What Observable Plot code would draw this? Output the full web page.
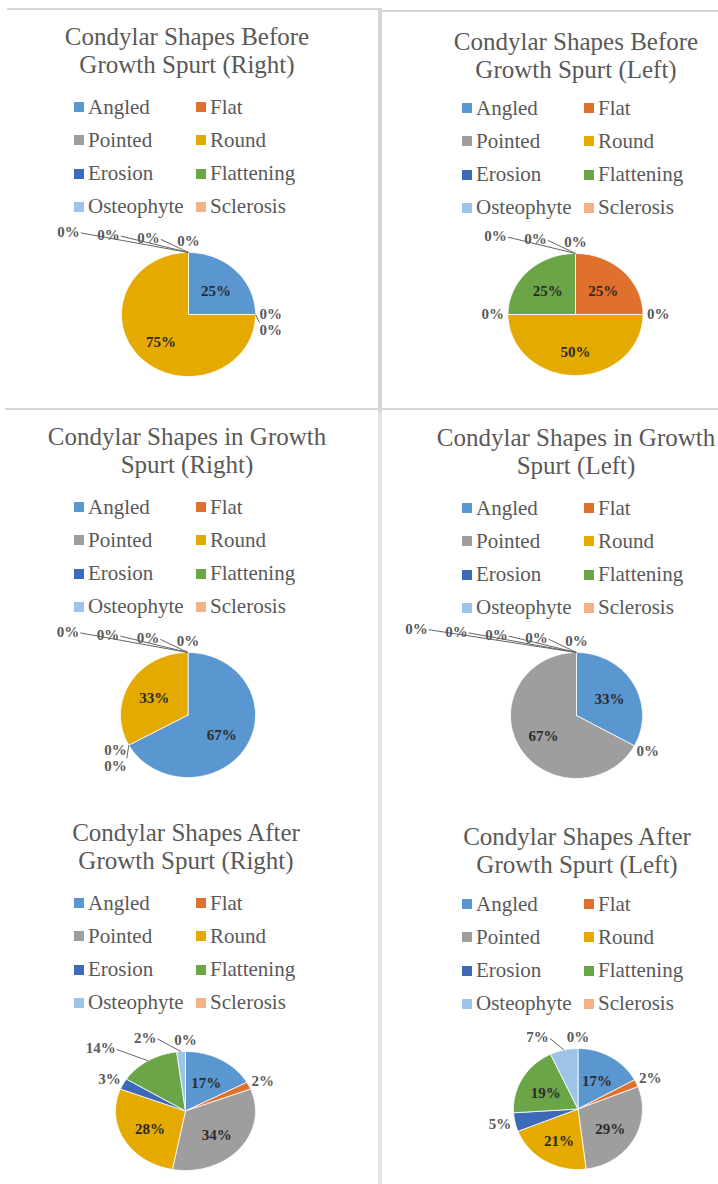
<!DOCTYPE html>
<html><head><meta charset="utf-8">
<script src="https://cdn.jsdelivr.net/npm/d3@7"></script>
<script src="https://cdn.jsdelivr.net/npm/@observablehq/plot@0.6"></script>
<style>
body{margin:0;background:#fff;font-family:'Liberation Serif','DejaVu Serif',serif;}
#page{position:relative;width:718px;height:1184px;overflow:hidden;background:#fff;font-family:'Liberation Serif','DejaVu Serif',serif;}
.title{position:absolute;width:440px;text-align:center;font-family:'Liberation Serif','DejaVu Serif',serif;font-size:25px;line-height:28px;color:#595959;white-space:nowrap;}
.leg{position:absolute;display:flex;align-items:center;font-family:'Liberation Serif','DejaVu Serif',serif;font-size:21px;color:#595959;height:26px;white-space:nowrap;}
.sw{width:10px;height:10px;margin-right:4px;flex:none;}
.rule{position:absolute;}
</style></head><body><div id="page"></div>
<script>
// ---- data ----
const categories = ["Angled","Flat","Pointed","Round","Erosion","Flattening","Osteophyte","Sclerosis"];
const colors = ["#5A96CF","#E0712C","#9E9E9E","#E4AA00","#3D6AB8","#6AA647","#9DC3E6","#F4B183"];
const titles = [
  ["Condylar Shapes Before","Growth Spurt (Right)"],
  ["Condylar Shapes Before","Growth Spurt (Left)"],
  ["Condylar Shapes in Growth","Spurt (Right)"],
  ["Condylar Shapes in Growth","Spurt (Left)"],
  ["Condylar Shapes After","Growth Spurt (Right)"],
  ["Condylar Shapes After","Growth Spurt (Left)"]
];
const beforeRight = [25,0,0,75,0,0,0,0];
const beforeLeft  = [0,25,0,50,0,25,0,0];
const inRight     = [67,0,0,33,0,0,0,0];
const inLeft      = [33,0,67,0,0,0,0,0];
const afterRight  = [17,2,34,28,3,14,2,0];
const afterLeft   = [17,2,29,21,5,19,7,0];
const seriesList = [beforeRight, beforeLeft, inRight, inLeft, afterRight, afterLeft];

// ---- layout (page px) ----
const layouts = [
  {tx:187, ty:37,  lx:74,  ly:107, cx:188,   cy:314,    rx:67,   ry:62,   svg:[0,215,378,190]},
  {tx:576, ty:42,  lx:462, ly:108, cx:575,   cy:314,    rx:67.5, ry:61,   svg:[383,215,335,190]},
  {tx:187, ty:437, lx:74,  ly:507, cx:187.5, cy:714.5,  rx:67.5, ry:62.5, svg:[0,615,378,185]},
  {tx:576, ty:438, lx:462, ly:508, cx:576,   cy:715,    rx:66,   ry:63,   svg:[383,615,335,185]},
  {tx:186, ty:833, lx:74,  ly:903, cx:185,   cy:1110.5, rx:70,   ry:59.5, svg:[0,1010,378,174]},
  {tx:577, ty:837, lx:462, ly:904, cx:577.5, cy:1108.5, rx:64.5, ry:60.5, svg:[383,1010,335,174]}
];

const page = document.getElementById("page");
function addRule(l,t,w,h,c){const d=document.createElement("div");d.className="rule";Object.assign(d.style,{left:l+"px",top:t+"px",width:w+"px",height:h+"px",background:c});page.appendChild(d);}
addRule(7,8,373,2,"#d6d6d6");
addRule(380,10,338,2,"#d6d6d6");
addRule(378,8,4,404,"#d6d6d6");
addRule(378,412,4,772,"#e4e4e4");
addRule(5,408,713,2,"#d6d6d6");

function labelWidth(t){return (t.length-1)*7.6+15;}

function buildPie(values, L){
  const total = d3.sum(values);
  let acc = 0;
  const slices = values.map((v,i)=>{
    const a0 = acc/total*2*Math.PI; acc += v; const a1 = acc/total*2*Math.PI;
    return {category:categories[i], value:v, pct:Math.round(v/total*100), a0, a1, mid:(a0+a1)/2};
  });
  // slice polygons in unit-circle coordinates
  const pts = [];
  slices.forEach((s,i)=>{
    if (s.value<=0) return;
    const n = Math.max(2, Math.ceil((s.a1-s.a0)/(Math.PI/180)));
    pts.push({key:i, category:s.category, x:0, y:0});
    for (let k=0;k<=n;k++){const a=s.a0+(s.a1-s.a0)*k/n; pts.push({key:i, category:s.category, x:Math.sin(a), y:Math.cos(a)});}
    pts.push({key:i, category:s.category, x:0, y:0});
  });
  // labels
  const inside = [], outside = [], leaders = [];
  const H = 14;
  slices.forEach(s=>{
    if (s.pct>=15){
      const k=0.58;
      inside.push({text:s.pct+"%", px:k*Math.sin(s.mid)*L.rx, py:-k*Math.cos(s.mid)*L.ry+2});
    }
  });
  const placed = [];
  const outs = slices.filter(s=>s.pct<15).reverse();
  outs.forEach(s=>{
    const text = s.pct+"%", w = labelWidth(text);
    const sn = Math.sin(s.mid), cs = Math.cos(s.mid);
    const ex = sn*L.rx, ey = -cs*L.ry;
    const dx0 = ex + sn*(4+w/2), dy0 = ey - cs*(4+H/2);
    let x = dx0, y = dy0;
    const top = cs>0.5;
    const hit = ()=>placed.some(b=>Math.abs(b.x-x)<(b.w+w)/2+(top?17:6) && Math.abs(b.y-y)<(b.h+H)/2+2);
    let guard=0;
    while (hit() && guard++<400){ if (top) { x-=1; y-=0.08; } else y+=1; }
    placed.push({x,y,w,h:H});
    outside.push({text, px:x, py:y});
    if (Math.hypot(x-dx0,y-dy0)>6){
      let qx, qy;
      if (top){ qx = x+w/2+1; qy = y+1; }
      else { qx = Math.max(x-w/2, Math.min(ex, x+w/2)); qy = y-H/2-1; }
      leaders.push({x1:ex/L.rx, y1:-ey/L.ry, x2:qx/L.rx, y2:-qy/L.ry});
    }
  });
  const toU = d=>({...d, ux:d.px/L.rx, uy:-d.py/L.ry});
  const [sl, st, sw, sh] = L.svg;
  const svg = Plot.plot({
    width: sw, height: sh, margin:0,
    x:{domain:[(sl-L.cx)/L.rx, (sl+sw-L.cx)/L.rx], range:[0,sw], axis:null},
    y:{domain:[-(st+sh-L.cy)/L.ry, (L.cy-st)/L.ry], range:[sh,0], axis:null},
    color:{domain:categories, range:colors},
    style:{overflow:"visible", background:"transparent"},
    marks:[
      Plot.line(pts, {x:"x", y:"y", z:"key", fill:"category", stroke:"white", strokeWidth:0.8, curve:"linear"}),
      Plot.link(leaders, {x1:"x1", y1:"y1", x2:"x2", y2:"y2", stroke:"#666", strokeWidth:1}),
      Plot.text(inside.map(toU), {x:"ux", y:"uy", text:"text", fontSize:15, fontWeight:"bold", fontFamily:"Liberation Serif", fill:"#2b2b2b", textAnchor:"middle", lineAnchor:"middle"}),
      Plot.text(outside.map(toU), {x:"ux", y:"uy", text:"text", fontSize:15, fontWeight:"bold", fontFamily:"Liberation Serif", fill:"#595959", textAnchor:"middle", lineAnchor:"middle"})
    ]
  });
  Object.assign(svg.style, {position:"absolute", left:sl+"px", top:st+"px"});
  return svg;
}

seriesList.forEach((values, p)=>{
  const L = layouts[p];
  const t = document.createElement("div");
  t.className = "title";
  t.style.left = (L.tx-220)+"px"; t.style.top = (L.ty-14)+"px";
  t.innerHTML = titles[p][0] + "<br>" + titles[p][1];
  page.appendChild(t);
  categories.forEach((c,i)=>{
    const col = i%2, row = Math.floor(i/2);
    const d = document.createElement("div");
    d.className = "leg";
    d.style.left = (L.lx + col*122)+"px";
    d.style.top = (L.ly + row*33.3 - 13)+"px";
    const s = document.createElement("span"); s.className="sw"; s.style.background = colors[i];
    d.appendChild(s); d.appendChild(document.createTextNode(c));
    page.appendChild(d);
  });
  page.appendChild(buildPie(values, L));
});
</script></body></html>
